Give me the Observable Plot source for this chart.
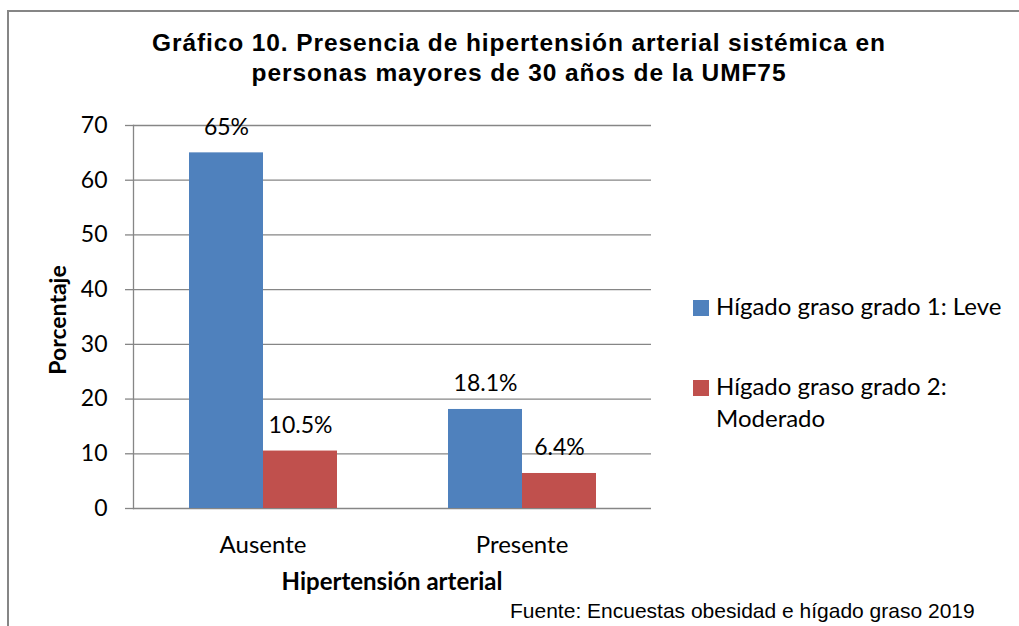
<!DOCTYPE html>
<html>
<head>
<meta charset="utf-8">
<script src="https://cdn.jsdelivr.net/npm/d3@7"></script>
<script src="https://cdn.jsdelivr.net/npm/@observablehq/plot@0.6"></script>
<style>
  html, body { margin: 0; padding: 0; background: #fff; }
  #wrap { position: relative; width: 1019px; height: 626px; overflow: hidden; background: #fff; }
  #border { position: absolute; left: 7px; top: 10px; width: 1100px; height: 700px;
            border-top: 2px solid #868686; border-left: 2px solid #868686; box-sizing: border-box; }
  #title { position: absolute; left: 0; top: 28px; width: 1038px; text-align: center;
           font-family: "Liberation Sans", Arial, sans-serif; font-weight: bold; font-size: 24.5px;
           letter-spacing: 0.9px; line-height: 30px; color: #000; }
  #chart { position: absolute; left: 0; top: 0; }
  .calib { font-family: Lato, "Open Sans", sans-serif; color: #000; }
  #ylab { position: absolute; left: 57px; top: 320px; transform: translate(-50%, -50%) rotate(-90deg);
          font-weight: bold; font-size: 23px; white-space: nowrap; }
  #xlab { position: absolute; left: 392px; top: 580px; transform: translate(-50%, -50%);
          font-weight: bold; font-size: 24px; white-space: nowrap; }
  #legend { position: absolute; left: 693px; top: 290px; font-size: 24px; line-height: 32px; }
  .item { position: relative; padding-left: 23px; }
  .sw { position: absolute; left: 0; top: 10px; width: 16px; height: 16px; }
  #caption { position: absolute; left: 510px; top: 599px; font-family: "Liberation Sans", Arial, sans-serif;
             font-size: 21px; color: #000; white-space: nowrap; }
</style>
</head>
<body>
<div id="wrap">
  <div id="border"></div>
  <div id="title">Gráfico 10. Presencia de hipertensión arterial sistémica en<br>personas mayores de 30 años de la UMF75</div>
  <div id="chart"></div>
  <div id="ylab" class="calib">Porcentaje</div>
  <div id="xlab" class="calib">Hipertensión arterial</div>
  <div id="legend" class="calib"></div>
  <div id="caption">Fuente: Encuestas obesidad e hígado graso 2019</div>
</div>
<script>
// ---- data ----
const categories = ["Ausente", "Presente"];
const series = ["Hígado graso grado 1: Leve", "Hígado graso grado 2: Moderado"];
const leveValues = [65, 18.1];
const moderadoValues = [10.5, 6.4];
const leveLabels = ["65%", "18.1%"];
const moderadoLabels = ["10.5%", "6.4%"];
const yTicks = [0, 10, 20, 30, 40, 50, 60, 70];
const colors = ["#4F81BD", "#C0504D"];

const data = [];
categories.forEach((c, i) => {
  data.push({cat: c, series: series[0], value: leveValues[i], label: leveLabels[i]});
  data.push({cat: c, series: series[1], value: moderadoValues[i], label: moderadoLabels[i]});
});

const gridColor = "#868686";
const font = "Lato, 'Open Sans', sans-serif";

const chart = Plot.plot({
  width: 1019,
  height: 626,
  marginTop: 125,
  marginBottom: 118,
  marginLeft: 133,
  marginRight: 368,
  style: {fontFamily: font, fontSize: "23px", color: "#000", background: "transparent"},
  fx: {domain: categories, padding: 0, label: null},
  x: {domain: series, paddingInner: 0, paddingOuter: 0.75, axis: null},
  y: {domain: [0, 70], axis: null},
  color: {domain: series, range: colors},
  marks: [
    Plot.gridY(yTicks, {stroke: gridColor, strokeOpacity: 1, strokeWidth: 1.3}),
    Plot.frame({anchor: "left", fx: () => categories[0], stroke: gridColor, strokeWidth: 1.3}),
    Plot.axisY(yTicks, {anchor: "left", tickSize: 8, tickPadding: 18, stroke: gridColor, strokeOpacity: 1,
                        strokeWidth: 1.3, fontSize: 23, fill: "#000", label: null}),
    Plot.axisFx({anchor: "bottom", tickSize: 0, tickPadding: 27, fontSize: 24, fill: "#000", label: null}),
    Plot.barY(data, {fx: "cat", x: "series", y: "value", fill: "series"}),
    Plot.text(data, {fx: "cat", x: "series", y: "value", text: "label", lineAnchor: "bottom", dy: -18,
                     fontSize: 23, fill: "#000"})
  ]
});
document.getElementById("chart").appendChild(chart);

// legend
const legend = document.getElementById("legend");
const legendLines = [["Hígado graso grado 1: Leve"], ["Hígado graso grado 2:", "Moderado"]];
legendLines.forEach((lines, i) => {
  const item = document.createElement("div");
  item.className = "item";
  item.style.marginBottom = i === 0 ? "48px" : "0";
  const sw = document.createElement("div");
  sw.className = "sw";
  sw.style.background = colors[i];
  item.appendChild(sw);
  lines.forEach((t, j) => {
    if (j) item.appendChild(document.createElement("br"));
    item.appendChild(document.createTextNode(t));
  });
  legend.appendChild(item);
});
</script>
</body>
</html>
